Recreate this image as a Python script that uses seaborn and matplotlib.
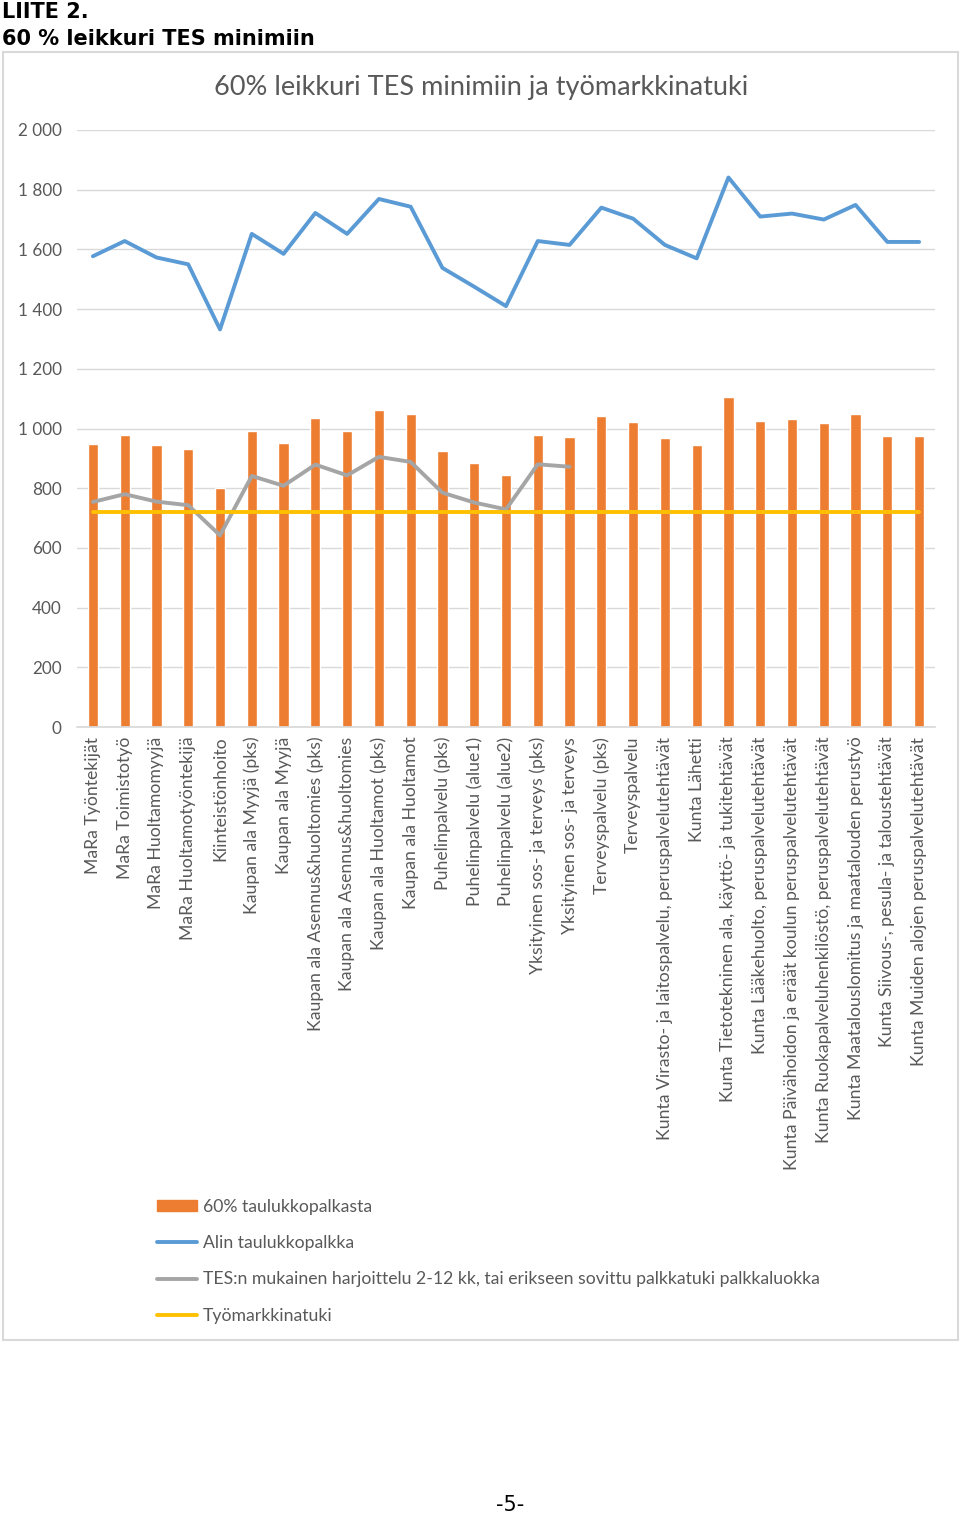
import numpy as np
import pandas as pd
import matplotlib.pyplot as plt
import seaborn as sns
from matplotlib.patches import Rectangle, Patch
from matplotlib.lines import Line2D

# Data
categories = [
    "MaRa Työntekijät",
    "MaRa Toimistotyö",
    "MaRa Huoltamomyyjä",
    "MaRa Huoltamotyöntekijä",
    "Kiinteistönhoito",
    "Kaupan ala Myyjä (pks)",
    "Kaupan ala Myyjä",
    "Kaupan ala Asennus&huoltomies (pks)",
    "Kaupan ala Asennus&huoltomies",
    "Kaupan ala Huoltamot (pks)",
    "Kaupan ala Huoltamot",
    "Puhelinpalvelu (pks)",
    "Puhelinpalvelu (alue1)",
    "Puhelinpalvelu (alue2)",
    "Yksityinen sos- ja terveys (pks)",
    "Yksityinen sos- ja terveys",
    "Terveyspalvelu (pks)",
    "Terveyspalvelu",
    "Kunta Virasto- ja laitospalvelu, peruspalvelutehtävät",
    "Kunta Lähetti",
    "Kunta Tietotekninen ala, käyttö- ja tukitehtävät",
    "Kunta Lääkehuolto, peruspalvelutehtävät",
    "Kunta Päivähoidon ja eräät koulun peruspalvelutehtävät",
    "Kunta Ruokapalveluhenkilöstö, peruspalvelutehtävät",
    "Kunta Maatalouslomitus ja maatalouden perustyö",
    "Kunta Siivous-, pesula- ja taloustehtävät",
    "Kunta Muiden alojen peruspalvelutehtävät",
]

taulukko_60 = [947, 977, 944, 930, 802, 992, 952, 1035, 992, 1063, 1047, 924, 886,
               844, 977, 971, 1042, 1022, 967, 944, 1107, 1025, 1032, 1019, 1050, 974, 974]

alin_palkka = [1577, 1628, 1573, 1550, 1332, 1652, 1585, 1722, 1652, 1769, 1743, 1538, 1475,
               1410, 1628, 1615, 1740, 1703, 1615, 1570, 1841, 1710, 1720, 1700, 1749, 1625, 1625]

harjoittelu = [754, 780, 755, 743, 642, 841, 808, 879, 843, 905, 888, 785, 752,
               729, 880, 872] + [np.nan] * 11

tyomarkkinatuki = [720] * 27

legend_labels = [
    "60% taulukkopalkasta",
    "Alin taulukkopalkka",
    "TES:n mukainen harjoittelu 2-12 kk, tai erikseen sovittu palkkatuki palkkaluokka",
    "Työmarkkinatuki",
]

ORANGE = "#ED7D31"
BLUE = "#5B9BD5"
GRAY = "#A5A5A5"
YELLOW = "#FFC000"
TEXT = "#595959"

df = pd.DataFrame({
    "cat": categories,
    "pos": np.arange(len(categories)),
    "bar": taulukko_60,
    "alin": alin_palkka,
    "harj": harjoittelu,
    "tuki": tyomarkkinatuki,
})

sns.set_theme(style="white")
plt.rcParams["font.family"] = ["Lato", "DejaVu Sans"]

fig = plt.figure(figsize=(9.6, 15.15), dpi=100)
W, H = 960, 1515
ax = fig.add_axes([77 / W, 1 - 727 / H, (935 - 77) / W, (727 - 130) / H])

sns.barplot(data=df, x="cat", y="bar", order=categories, color=ORANGE,
            width=0.32, saturation=1, ax=ax, zorder=2)
sns.lineplot(data=df, x="pos", y="harj", color=GRAY, lw=2.8, ax=ax, zorder=3)
sns.lineplot(data=df, x="pos", y="tuki", color=YELLOW, lw=2.8, ax=ax, zorder=4)
sns.lineplot(data=df, x="pos", y="alin", color=BLUE, lw=2.8, ax=ax, zorder=5)

ax.set_xlim(-0.5, len(categories) - 0.5)
ax.set_ylim(0, 2000)
ax.set_yticks(range(0, 2001, 200))
ax.set_yticklabels([f"{v:,}".replace(",", " ") for v in range(0, 2001, 200)],
                   fontsize=12.3, color=TEXT)
ax.set_xticks(df["pos"])
ax.set_xticklabels(categories, rotation=90, fontsize=12.7, color=TEXT, va="top")
ax.tick_params(axis="y", length=0, pad=11)
ax.tick_params(axis="x", length=0, pad=7)
ax.yaxis.grid(True, color="#D9D9D9", lw=1)
ax.set_axisbelow(True)
for s in ["top", "right", "left"]:
    ax.spines[s].set_visible(False)
ax.spines["bottom"].set_color("#D9D9D9")
ax.set_xlabel("")
ax.set_ylabel("")
if ax.get_legend():
    ax.get_legend().remove()

fig.text(481 / W, 1 - 88 / H, "60% leikkuri TES minimiin ja työmarkkinatuki",
         ha="center", va="center", fontsize=19.5, color=TEXT)

# chart frame
fig.patches.append(Rectangle((3 / W, 1 - 1340 / H), 955 / W, 1288 / H,
                             transform=fig.transFigure, fill=False,
                             edgecolor="#D9D9D9", lw=1.5))

# page headings
fig.text(2 / W, 1 - 12 / H, "LIITE 2.", ha="left", va="center",
         fontsize=15, fontweight="bold", family="DejaVu Sans", color="black")
fig.text(2 / W, 1 - 39 / H, "60 % leikkuri TES minimiin", ha="left", va="center",
         fontsize=15, fontweight="bold", family="DejaVu Sans", color="black")

handles = [
    Patch(facecolor=ORANGE, edgecolor=ORANGE),
    Line2D([], [], color=BLUE, lw=2.8),
    Line2D([], [], color=GRAY, lw=2.8),
    Line2D([], [], color=YELLOW, lw=2.8),
]
fig.legend(handles, legend_labels, loc="upper left",
           bbox_to_anchor=(141 / W, 1 - 1183 / H), frameon=False,
           fontsize=12.7, labelcolor=TEXT, handlelength=2.3, handleheight=0.6,
           handletextpad=0.3, labelspacing=1.15)

fig.text(510 / W, 1 - 1505 / H, "-5-", ha="center", va="center",
         fontsize=15, family="DejaVu Sans", color="black")

plt.savefig("out.png", dpi=100)
